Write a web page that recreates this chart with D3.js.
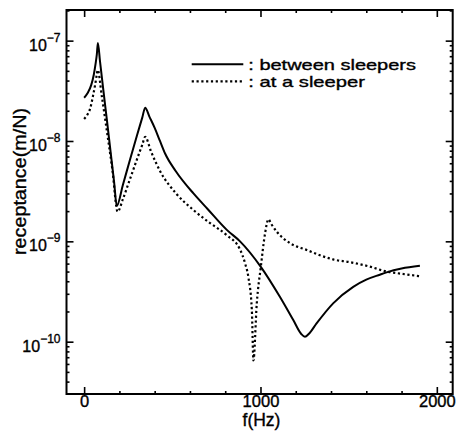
<!DOCTYPE html>
<html><head><meta charset="utf-8">
<script src="https://cdn.jsdelivr.net/npm/d3@7"></script>
<style>
body{margin:0;background:#fff;}
svg text{font-family:"Liberation Sans",Arial,Helvetica,sans-serif;fill:#000;stroke:#000;stroke-width:0.35px;}
</style></head><body>
<svg id="chart" width="457" height="448"></svg>
<script>
// ---- data ----
const freqBetween = [0, 20, 40, 55, 65, 72, 78, 90, 110, 130, 150, 170, 185, 220, 260, 300, 330, 346, 370, 400, 430, 459, 520, 620, 700, 809, 884, 1001, 1110, 1186, 1230, 1252, 1275, 1318, 1412, 1526, 1600, 1677, 1715, 1800, 1904];
const recBetween  = [2.7e-8, 3.0e-8, 3.6e-8, 4.6e-8, 5.9e-8, 7.3e-8, 9.5e-8, 6.2e-8, 3.1e-8, 1.57e-8, 7.8e-9, 3.9e-9, 2.25e-9, 3.67e-9, 6.5e-9, 1.14e-8, 1.72e-8, 2.15e-8, 1.75e-8, 1.35e-8, 1.0e-8, 7.5e-9, 5.0e-9, 3.0e-9, 2.1e-9, 1.3e-9, 1.0e-9, 5.6e-10, 2.8e-10, 1.64e-10, 1.2e-10, 1.12e-10, 1.2e-10, 1.52e-10, 2.41e-10, 3.52e-10, 4.15e-10, 4.65e-10, 4.9e-10, 5.35e-10, 5.7e-10];

const freqAt = [0, 20, 34, 50, 62, 72, 77, 100, 130, 160, 190, 220, 260, 300, 330, 346, 380, 431, 525, 620, 714, 809, 884, 913, 931, 951, 960, 979, 1002, 1026, 1045, 1060, 1092, 1167, 1262, 1412, 1507, 1620, 1715, 1800, 1900];
const recAt  = [1.66e-8, 1.85e-8, 2.1e-8, 2.8e-8, 3.6e-8, 4.6e-8, 5.1e-8, 2.82e-8, 1.22e-8, 5.2e-9, 1.97e-9, 2.64e-9, 4.17e-9, 6.6e-9, 9.2e-9, 1.1e-8, 7.8e-9, 5.0e-9, 2.95e-9, 2.05e-9, 1.52e-9, 1.15e-9, 8.3e-10, 6.0e-10, 4.43e-10, 2.07e-10, 6.5e-11, 2.41e-10, 5.58e-10, 1.2e-9, 1.66e-9, 1.5e-9, 1.25e-9, 9.6e-10, 8.2e-10, 6.6e-10, 6.2e-10, 5.6e-10, 5.0e-10, 4.75e-10, 4.5e-10];

const seriesNames = [": between sleepers", ": at a sleeper"];
const xMajorTicks = [0, 1000, 2000];
const xMinorTicks = [200, 400, 600, 800, 1200, 1400, 1600, 1800];
const yMajorExponents = [-10, -9, -8, -7];
const xTitle = "f(Hz)";
const yTitle = "receptance(m/N)";

// ---- layout ----
const svg = d3.select("#chart");
const pL = 66.5, pR = 452.7, pT = 10, pB = 394;
const x = d3.scaleLinear().domain([-100, 2090]).range([pL, pR]);
const y = d3.scaleLog().domain([3.01e-11, 2.02e-7]).range([pB, pT]);

const yMinorTicks = [];
for (let e = -11; e <= -7; e++) for (let m = 2; m <= 9; m++) {
  const v = m * Math.pow(10, e);
  if (v >= y.domain()[0] && v <= y.domain()[1]) yMinorTicks.push(v);
}
const yMajorTicks = yMajorExponents.map(e => Math.pow(10, e));

const MAJ = 7, MIN = 3;
function styleAxis(g) {
  g.select(".domain").remove();
  g.selectAll(".tick line").attr("stroke", "#000").attr("stroke-width", 1.6);
}
// bottom
svg.append("g").attr("transform", `translate(0,${pB})`)
  .call(d3.axisBottom(x).tickValues(xMajorTicks).tickSize(-MAJ).tickFormat(d => String(d)))
  .call(styleAxis)
  .call(g => g.selectAll(".tick text").attr("y", 12.5).attr("dy", null).attr("font-size", 16.5).attr("font-family", null));
svg.append("g").attr("transform", `translate(0,${pB})`)
  .call(d3.axisBottom(x).tickValues(xMinorTicks).tickSize(-MIN).tickFormat(""))
  .call(styleAxis);
// top
svg.append("g").attr("transform", `translate(0,${pT})`)
  .call(d3.axisTop(x).tickValues(xMajorTicks).tickSize(-MAJ).tickFormat(""))
  .call(styleAxis);
svg.append("g").attr("transform", `translate(0,${pT})`)
  .call(d3.axisTop(x).tickValues(xMinorTicks).tickSize(-MIN).tickFormat(""))
  .call(styleAxis);
// left
svg.append("g").attr("transform", `translate(${pL},0)`)
  .call(d3.axisLeft(y).tickValues(yMajorTicks).tickSize(-MAJ).tickFormat(d => Math.round(Math.log10(d))))
  .call(styleAxis)
  .call(g => g.selectAll(".tick text").each(function(d) {
    const e = Math.round(Math.log10(d));
    const t = d3.select(this);
    t.text(null).attr("x", -6).attr("y", 9.5).attr("dy", null).attr("text-anchor", "end").attr("font-family", null).attr("font-size", 16);
    t.append("tspan").text("10");
    t.append("tspan").attr("font-size", 12).attr("dy", -9).text("\u2212" + Math.abs(e));
  }));
svg.append("g").attr("transform", `translate(${pL},0)`)
  .call(d3.axisLeft(y).tickValues(yMinorTicks).tickSize(-MIN).tickFormat(""))
  .call(styleAxis);
// right
svg.append("g").attr("transform", `translate(${pR},0)`)
  .call(d3.axisRight(y).tickValues(yMajorTicks).tickSize(-MAJ).tickFormat(""))
  .call(styleAxis);
svg.append("g").attr("transform", `translate(${pR},0)`)
  .call(d3.axisRight(y).tickValues(yMinorTicks).tickSize(-MIN).tickFormat(""))
  .call(styleAxis);

// frame
svg.append("rect").attr("x", pL).attr("y", pT).attr("width", pR - pL).attr("height", pB - pT)
  .attr("fill", "none").attr("stroke", "#000").attr("stroke-width", 2);

// curves
const line = d3.line().x(d => x(d[0])).y(d => y(d[1])).curve(d3.curveMonotoneX);
const between = freqBetween.map((f, i) => [f, recBetween[i]]);
const atS = freqAt.map((f, i) => [f, recAt[i]]);
svg.append("path").datum(between).attr("d", line).attr("fill", "none")
  .attr("stroke", "#000").attr("stroke-width", 2).attr("stroke-linejoin", "round");
svg.append("path").datum(atS).attr("d", line).attr("fill", "none")
  .attr("stroke", "#000").attr("stroke-width", 2.2).attr("stroke-dasharray", "2.2,2.6");

// legend
const leg = svg.append("g");
const legRows = [{ly: 64.3, dash: null, w: 2}, {ly: 81.3, dash: "2.2,2.6", w: 2.2}];
legRows.forEach((r, i) => {
  leg.append("line").attr("x1", 191.7).attr("x2", 243.3).attr("y1", r.ly).attr("y2", r.ly)
    .attr("stroke", "#000").attr("stroke-width", r.w).attr("stroke-dasharray", r.dash);
  leg.append("text").attr("x", 248.3).attr("y", r.ly + 5.5).attr("font-size", 15)
    .attr("textLength", i === 0 ? 167.7 : 116.7).attr("lengthAdjust", "spacingAndGlyphs")
    .text(seriesNames[i]);
});

// axis titles
svg.append("text").attr("x", 261.5).attr("y", 425.5).attr("text-anchor", "middle").attr("font-size", 17.5).text(xTitle);
svg.append("text").attr("transform", "translate(26,181.5) rotate(-90)").attr("text-anchor", "middle")
  .attr("font-size", 18).attr("textLength", 147).attr("lengthAdjust", "spacingAndGlyphs").text(yTitle);
</script>
</body></html>
